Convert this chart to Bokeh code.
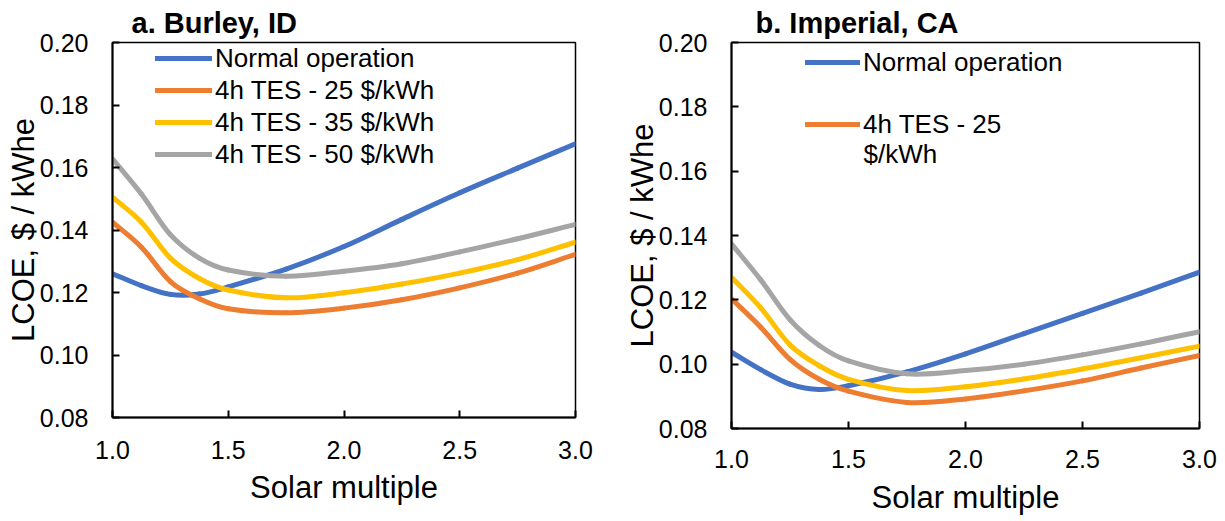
from bokeh.plotting import figure
from bokeh.layouts import row
from bokeh.models import Range1d, FixedTicker, NumeralTickFormatter, Legend, LegendItem, Label
from bokeh.embed import file_html
from bokeh.resources import INLINE

# ---------------- data ----------------
solar_multiple = [1.0, 1.125, 1.25, 1.375, 1.5, 1.75, 2.0, 2.25, 2.5, 2.75, 3.0]
x_ticks = [1.0, 1.5, 2.0, 2.5, 3.0]
y_ticks = [0.08, 0.10, 0.12, 0.14, 0.16, 0.18, 0.20]

series_names = ["Normal operation", "4h TES - 25 $/kWh", "4h TES - 35 $/kWh", "4h TES - 50 $/kWh"]

burley_normal = [0.1260, 0.1222, 0.1194, 0.1195, 0.1218, 0.1275, 0.1347, 0.1434, 0.1519, 0.1598, 0.1676]
burley_tes25 = [0.1425, 0.1345, 0.1235, 0.1180, 0.1148, 0.1135, 0.1150, 0.1177, 0.1215, 0.1262, 0.1322]
burley_tes35 = [0.1505, 0.1425, 0.1310, 0.1245, 0.1208, 0.1183, 0.1199, 0.1227, 0.1262, 0.1305, 0.1361]
burley_tes50 = [0.1628, 0.1515, 0.1385, 0.1310, 0.1272, 0.1252, 0.1268, 0.1292, 0.1330, 0.1372, 0.1418]

imperial_normal = [0.1037, 0.0983, 0.0938, 0.0921, 0.0933, 0.0976, 0.1032, 0.1095, 0.1158, 0.1221, 0.1286]
imperial_tes25 = [0.1203, 0.1115, 0.1015, 0.0953, 0.0916, 0.0881, 0.0892, 0.0917, 0.0948, 0.0988, 0.1027]
imperial_tes35 = [0.1270, 0.1175, 0.1060, 0.0995, 0.0953, 0.0918, 0.0930, 0.0954, 0.0985, 0.1020, 0.1056]
imperial_tes50 = [0.1374, 0.1262, 0.1138, 0.1058, 0.1010, 0.0970, 0.0980, 0.1000, 0.1029, 0.1063, 0.1101]

# ---------------- style ----------------
FONT = "Liberation Sans"
COLORS = ["#4472C4", "#ED7D31", "#FFC000", "#A5A5A5"]
LINE_W = 5


def smooth_segments(xs, ys):
    """Cubic Bezier pieces through the data points (smoothed line rendering)."""
    n = len(xs)
    m = []
    for i in range(n):
        a = max(i - 1, 0)
        b = min(i + 1, n - 1)
        m.append((ys[b] - ys[a]) / (xs[b] - xs[a]))
    out = dict(x0=[], y0=[], x1=[], y1=[], cx0=[], cy0=[], cx1=[], cy1=[])
    for i in range(n - 1):
        h = xs[i + 1] - xs[i]
        out["x0"].append(xs[i]); out["y0"].append(ys[i])
        out["x1"].append(xs[i + 1]); out["y1"].append(ys[i + 1])
        out["cx0"].append(xs[i] + h / 3.0); out["cy0"].append(ys[i] + m[i] * h / 3.0)
        out["cx1"].append(xs[i + 1] - h / 3.0); out["cy1"].append(ys[i + 1] - m[i + 1] * h / 3.0)
    return out


def make_panel(title, title_offset, ys, width, height, border_left, border_right, border_bottom,
               tick_standoff_x, label_standoff_x):
    p = figure(width=width, height=height, x_range=Range1d(1.0, 3.0), y_range=Range1d(0.08, 0.20),
               output_backend="svg", toolbar_location=None, title=title,
               min_border_left=border_left, min_border_right=border_right,
               min_border_top=42, min_border_bottom=border_bottom)
    p.title.text_font = FONT
    p.title.text_font_size = "29px"
    p.title.text_font_style = "bold"
    p.title.text_color = "black"
    p.title.align = "left"
    p.title.offset = title_offset
    p.title.standoff = 7
    p.background_fill_color = "white"
    p.border_fill_color = "white"
    p.outline_line_color = "black"
    p.outline_line_width = 1.5
    p.outline_line_alpha = 1.0
    p.xgrid.visible = False
    p.ygrid.visible = False

    renderers = []
    for y, c in zip(ys, COLORS):
        seg = smooth_segments(solar_multiple, y)
        r = p.bezier(x0=seg["x0"], y0=seg["y0"], x1=seg["x1"], y1=seg["y1"],
                     cx0=seg["cx0"], cy0=seg["cy0"], cx1=seg["cx1"], cy1=seg["cy1"],
                     line_color=c, line_width=LINE_W, line_cap="round")
        renderers.append(r)

    for ax in (p.xaxis[0], p.yaxis[0]):
        ax.axis_line_color = "black"
        ax.axis_line_width = 2
        ax.major_tick_line_color = "black"
        ax.major_tick_line_width = 2
        ax.major_tick_in = 7
        ax.major_tick_out = 0
        ax.minor_tick_in = 0
        ax.minor_tick_out = 0
        ax.major_label_text_font = FONT
        ax.major_label_text_font_size = "25px"
        ax.major_label_text_color = "black"
        ax.axis_label_text_font = FONT
        ax.axis_label_text_font_size = "31px"
        ax.axis_label_text_font_style = "normal"
        ax.axis_label_text_color = "black"

    p.xaxis.ticker = FixedTicker(ticks=x_ticks, minor_ticks=[])
    p.yaxis.ticker = FixedTicker(ticks=y_ticks, minor_ticks=[])
    p.xaxis.formatter = NumeralTickFormatter(format="0.0")
    p.yaxis.formatter = NumeralTickFormatter(format="0.00")
    p.xaxis.axis_label = "Solar multiple"
    p.yaxis.axis_label = "LCOE, $ / kWhe"
    p.xaxis.major_label_standoff = tick_standoff_x
    p.xaxis.axis_label_standoff = label_standoff_x
    p.yaxis.major_label_standoff = 24
    p.yaxis.axis_label_standoff = -4
    return p, renderers


# Panel a
pa, ra = make_panel("a.  Burley, ID", 19,
                    [burley_normal, burley_tes25, burley_tes35, burley_tes50],
                    620, 521, 112, 45, 104, 23, 8)
leg_a = Legend(items=[LegendItem(label=n, renderers=[r]) for n, r in zip(series_names, ra)],
               location=(43, 247), orientation="vertical")
pa.add_layout(leg_a, "center")

# Panel b (taller plot frame, as in the original figure)
pb, rb = make_panel("b.  Imperial, CA", 24,
                    [imperial_normal, imperial_tes25, imperial_tes35, imperial_tes50],
                    605, 532, 111, 26, 104, 21, 9)
leg_b = Legend(items=[LegendItem(label=series_names[0], renderers=[rb[0]]),
                      LegendItem(label="4h TES - 25", renderers=[rb[1]])],
               location=(74, 284), orientation="vertical")
pb.add_layout(leg_b, "center")
pb.add_layout(Label(x=1.564, y=0.1652, text="$/kWh", text_font=FONT, text_font_size="26px",
                    text_color="black", text_baseline="middle"))

for leg, gw, rh, sp in ((leg_a, 57, 32, 0), (leg_b, 55, 40, 22)):
    leg.border_line_alpha = 0
    leg.background_fill_alpha = 0
    leg.padding = 0
    leg.margin = 0
    leg.spacing = sp
    leg.glyph_width = gw
    leg.glyph_height = rh
    leg.label_height = rh
    leg.label_standoff = 3
    leg.label_text_font = FONT
    leg.label_text_font_size = "26px"
    leg.label_text_color = "black"
    leg.label_text_baseline = "middle"

layout = row(pa, pb)
open("out.html", "w").write(file_html(layout, INLINE))
